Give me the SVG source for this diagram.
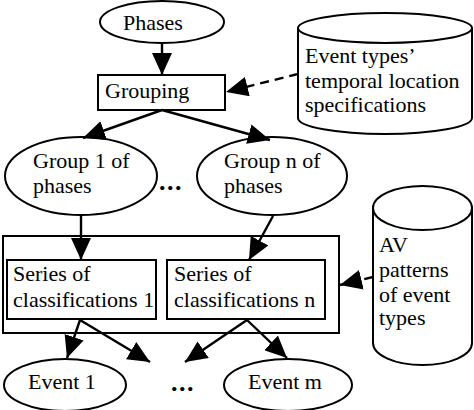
<svg xmlns="http://www.w3.org/2000/svg" width="474" height="410" viewBox="0 0 474 410">
<style>
.s{fill:#fff;stroke:#000;stroke-width:2}
.t{font-family:"Liberation Serif","Times New Roman",serif;font-size:22px;fill:#000}
.dt{font-family:"Liberation Serif","Times New Roman",serif;font-size:26px;font-weight:bold;letter-spacing:1.5px;fill:#000}
.c{fill:none;stroke:#000;stroke-width:2.4}
.d{stroke-dasharray:9,6}
</style>
<defs>
<marker id="ah" viewBox="0 0 22 20" refX="22" refY="10" markerWidth="22" markerHeight="20" orient="auto" markerUnits="userSpaceOnUse">
<path d="M0,0 L22,10 L0,20 Z" fill="#000"/>
</marker>
</defs>
<rect width="474" height="410" fill="#fff"/>
<g id="phases"><ellipse class="s" cx="162" cy="22" rx="62" ry="21"/><text class="t" x="123" y="30">Phases</text></g>
<g id="grouping"><rect class="s" x="98" y="75" width="127" height="35"/><text class="t" x="105" y="98">Grouping</text></g>
<g id="spec"><path class="s" d="M298,28 A87,15 0 0 1 472,28 V118 A87,16 0 0 1 298,118 Z"/><path class="c" style="stroke-width:2" d="M298,28 A87,15 0 0 0 472,28"/>
<text class="t" x="305" y="63">Event types’</text><text class="t" x="305" y="88">temporal location</text><text class="t" x="305" y="112">specifications</text></g>
<g id="group1"><ellipse class="s" cx="81" cy="176" rx="76" ry="39"/><text class="t" x="33" y="168">Group 1 of</text><text class="t" x="33" y="193">phases</text></g>
<g id="groupn"><ellipse class="s" cx="272" cy="176" rx="75" ry="39"/><text class="t" x="224" y="168">Group n of</text><text class="t" x="224" y="193">phases</text></g>
<g id="dots1"><text class="dt" x="159" y="190">...</text></g>
<g id="outer"><rect class="s" x="3" y="236" width="336" height="97"/></g>
<g id="series1"><rect class="s" x="7" y="260" width="149" height="59"/><text class="t" x="13" y="281">Series of</text><text class="t" x="13" y="307">classifications 1</text></g>
<g id="seriesn"><rect class="s" x="167" y="260" width="158" height="59"/><text class="t" x="174" y="281">Series of</text><text class="t" x="174" y="307">classifications n</text></g>
<g id="av"><path class="s" d="M373,208 A49.5,22 0 0 1 472,208 V343 A49.5,22 0 0 1 373,343 Z"/><path class="c" style="stroke-width:2" d="M373,208 A49.5,22 0 0 0 472,208"/>
<text class="t" x="379" y="252">AV</text><text class="t" x="379" y="277">patterns</text><text class="t" x="379" y="302">of event</text><text class="t" x="379" y="325">types</text></g>
<g id="event1"><ellipse class="s" cx="65" cy="385" rx="61" ry="26"/><text class="t" x="28" y="389">Event 1</text></g>
<g id="eventm"><ellipse class="s" cx="288" cy="385" rx="64" ry="26"/><text class="t" x="248" y="389">Event m</text></g>
<g id="dots2"><text class="dt" x="171" y="391">...</text></g>
<g id="connectors">
<path class="c" d="M162,43 L162,75" marker-end="url(#ah)"/>
<path class="c" d="M162,110 L83,138" marker-end="url(#ah)"/>
<path class="c" d="M162,110 L270,140" marker-end="url(#ah)"/>
<path class="c d" d="M298,74 L226,92" marker-end="url(#ah)"/>
<path class="c" d="M81,215 L81,260" marker-end="url(#ah)"/>
<path class="c" d="M273,216 L249,260" marker-end="url(#ah)"/>
<path class="c d" d="M373,277 L340,285" marker-end="url(#ah)"/>
<path class="c" d="M80,320 L67,358" marker-end="url(#ah)"/>
<path class="c" d="M80,320 L150,362" marker-end="url(#ah)"/>
<path class="c" d="M247,320 L185,362" marker-end="url(#ah)"/>
<path class="c" d="M247,320 L287,358" marker-end="url(#ah)"/>
</g>
</svg>
